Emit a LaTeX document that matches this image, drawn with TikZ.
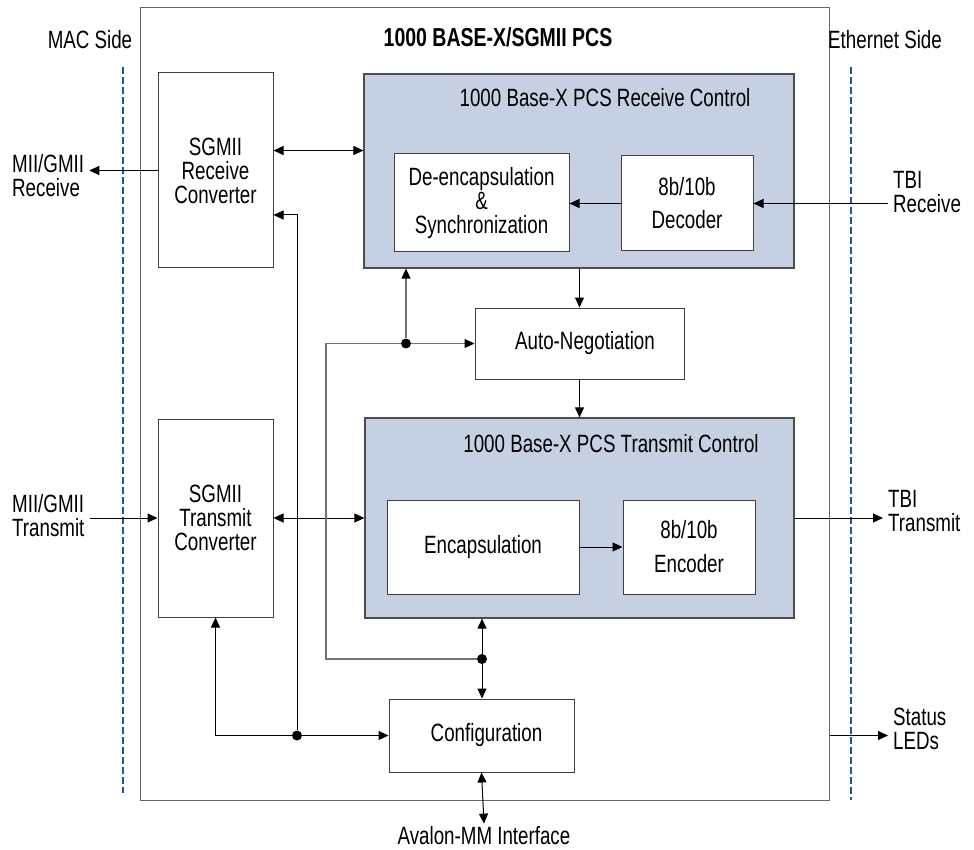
\documentclass[tikz,border=0pt]{standalone}
\usepackage{fontspec}
\setmainfont{Liberation Sans}[FakeStretch=0.75]
\usetikzlibrary{arrows.meta}
\definecolor{ctrlfill}{RGB}{197,208,226}
\definecolor{sideblue}{RGB}{28,87,150}

\begin{document}
\begin{tikzpicture}[x=1pt,y=-1pt,
  font=\fontsize{25}{24}\selectfont,
  blk/.style={draw=black!75,line width=1pt,fill=white,inner sep=0pt,align=center},
  ctrl/.style={draw=black!70,line width=1.2pt,fill=ctrlfill,inner sep=0pt},
  lbl/.style={align=left,inner sep=5pt},
  wire/.style={draw=black,line width=1pt},
  gwire/.style={draw=black!55,line width=1.2pt},
  tip/.tip={Triangle[length=10pt,width=9pt,black]},
  arr/.style={wire,-tip},
  garr/.style={gwire,-tip},
  dbl/.style={wire,tip-tip},
  side/.style={draw=sideblue,line width=1.8pt,dash pattern=on 7pt off 3pt},
  dot/.style={circle,fill=black,inner sep=0pt,minimum size=10pt}]
  \useasboundingbox (0,0) rectangle (974,850);

  % outer PCS block and the two sides
  \node[draw=black!60,line width=1pt,minimum width=689pt,minimum height=792pt] (pcs) at (484.5,404) {};
  \node[font=\fontsize{26}{22}\selectfont\bfseries] (pcstitle) at (498,37) {1000 BASE-X/SGMII PCS};
  \node (macside) at (90,40) {MAC Side};
  \node (ethside) at (885,40) {Ethernet Side};
  \draw[side] (123,67) -- (123,793);
  \draw[side] (851,67) -- (851,800);

  % receive path
  \node[blk] (sgrx) at (215.5,170.5) [minimum width=115pt,minimum height=195pt] {SGMII\\Receive\\Converter};
  \node[ctrl] (rxc) at (579,171) [minimum width=430pt,minimum height=194pt] {};
  \node (rxtitle) at (605,98) {1000 Base-X PCS Receive Control};
  \node[blk] (deenc) at (481.5,203) [minimum width=175pt,minimum height=98pt] {De-encapsulation\\\&\\Synchronization};
  \node[blk] (dec) at (687,203.5) [minimum width=132pt,minimum height=95pt] {8b/10b\\[9pt]Decoder};

  \node[blk] (autoneg) at (579.5,343.5) [minimum width=209pt,minimum height=71pt] {\hspace{11pt}Auto-Negotiation};

  % transmit path
  \node[blk] (sgtx) at (215.5,518) [minimum width=115pt,minimum height=198pt] {SGMII\\Transmit\\Converter};
  \node[ctrl] (txc) at (579.5,518) [minimum width=429pt,minimum height=200pt] {};
  \node (txtitle) at (611,444) {1000 Base-X PCS Transmit Control};
  \node[blk] (enc) at (483,547) [minimum width=192pt,minimum height=94pt] {Encapsulation};
  \node[blk] (encd) at (689,547) [minimum width=132pt,minimum height=94pt] {8b/10b\\[10pt]Encoder};

  \node[blk] (cfg) at (481.5,735.5) [minimum width=185pt,minimum height=73pt] {\hspace{10pt}Configuration};

  % outside labels
  \node[lbl,anchor=west] (miirx) at (7,176) {MII/GMII\\Receive};
  \node[lbl,anchor=west] (miitx) at (7,516) {MII/GMII\\Transmit};
  \node[lbl,anchor=west] (tbirx) at (888,192) {TBI\\Receive};
  \node[lbl,anchor=west] (tbitx) at (883,511) {TBI\\Transmit};
  \node[lbl,anchor=west] (leds) at (888,729) {Status\\LEDs};
  \node[inner sep=3pt] (avalon) at (484,836) {Avalon-MM Interface};

  % junctions
  \node[dot] (j1) at (297,735.5) {};
  \node[dot] (j2) at (482,659) {};
  \node[dot] (j3) at (406,343.5) {};
  \coordinate (lp1) at (326,659);
  \coordinate (lp2) at (326,343.5);

  % connectors
  \draw[arr] (sgrx.west) -- (sgrx.west -| miirx.east);
  \draw[dbl] ([yshift=20pt]sgrx.east) -- ([yshift=20pt]sgrx.east -| rxc.west);
  \draw[arr] (tbirx.west |- dec) -- (dec.east);
  \draw[arr] (dec.west) -- (dec.west -| deenc.east);
  \draw[arr] (rxc.south -| autoneg) -- (autoneg.north);
  \draw[arr] (autoneg.south) -- (autoneg.south |- txc.north);
  \draw[arr] (miitx.east |- sgtx) -- (sgtx.west);
  \draw[dbl] (sgtx.east) -- (sgtx.east -| txc.west);
  \draw[arr] (txc.east) -- (txc.east -| tbitx.west);
  \draw[arr] (enc.east) -- (enc.east -| encd.west);
  \draw[gwire] (j2) -- (lp1) -- (lp2) -- (j3);
  \draw[garr] (j3) -- (autoneg.west);
  \draw[garr] (j3) -- (j3 |- rxc.south);
  \draw[dbl] (j2 |- txc.south) -- (j2 |- cfg.north);
  \draw[arr] (j1) |- ([yshift=-44.5pt]sgrx.east);
  \draw[arr] (j1) -| (sgtx.south);
  \draw[arr] (j1) -- (cfg.west);
  \draw[dbl] (cfg.south) -- (avalon.north);
  \draw[arr] (pcs.east |- cfg) -- (leds.west |- cfg);
\end{tikzpicture}
\end{document}
